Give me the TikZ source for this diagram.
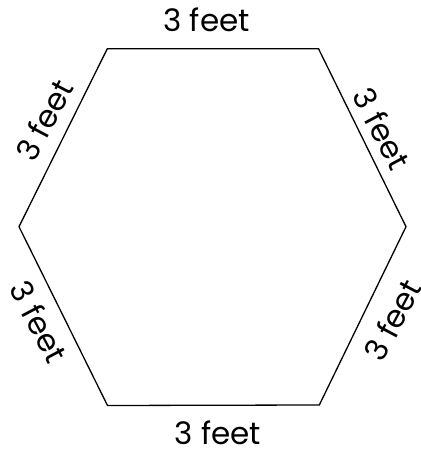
\documentclass[tikz,border=0pt]{standalone}
\usepackage{fontspec}
\setmainfont{Poppins}
\begin{document}
\begin{tikzpicture}[x=1pt,y=1pt,
  edge/.style={draw=black,line width=1.3pt,line join=miter},
  lbl/.style={inner sep=0pt,font=\fontsize{31}{32}\selectfont}]
\useasboundingbox (0,0) rectangle (420,457);
\coordinate (TL) at (107.3,408.3);
\coordinate (TR) at (318.5,408.3);
\coordinate (R) at (406,230.3);
\coordinate (BR) at (319.3,52);
\coordinate (BL) at (107.5,51.5);
\coordinate (L) at (19,230.3);
\draw[edge] (TL) -- (TR) -- (R) -- (BR) -- (BL) -- (L) -- cycle;
\node[lbl] (t) at (206.5,437.5) {3 feet};
\node[lbl] (b) at (218,24.5) {3 feet};
\node[lbl,rotate=62] (ul) at (44,337) {3 feet};
\node[lbl,rotate=-62] (ur) at (382,328.5) {3 feet};
\node[lbl,rotate=-62] (ll) at (39,135.5) {3 feet};
\node[lbl,rotate=62] (lr) at (392.5,137) {3 feet};
\end{tikzpicture}
\end{document}
